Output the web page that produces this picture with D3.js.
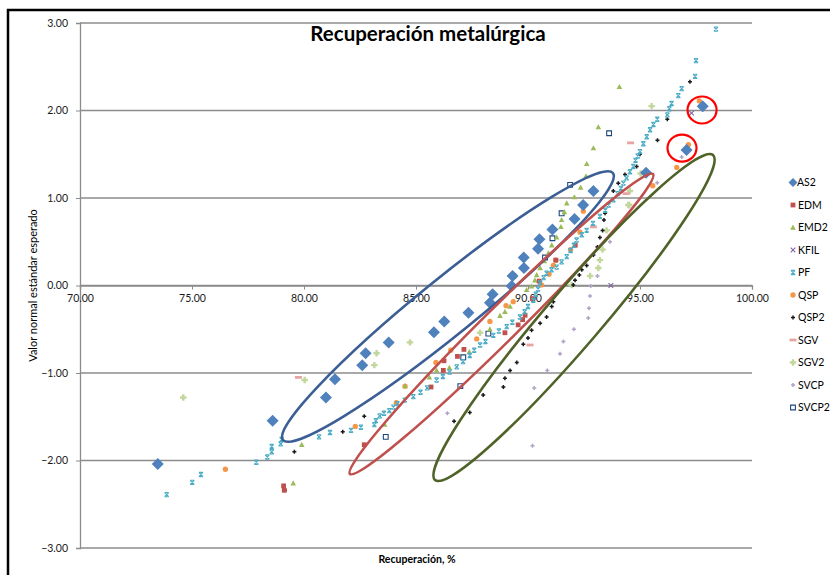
<!DOCTYPE html>
<html>
<head>
<meta charset="utf-8">
<script src="https://cdn.jsdelivr.net/npm/d3@7"></script>
<style>
  body { margin: 0; background: #fff; }
  text { font-family: Lato, "Open Sans", sans-serif; }
</style>
</head>
<body>
<div id="chart"></div>
<script>
// data: [recuperacion %, valor normal]
var AS2 = [[73.47,-2.04],[78.60,-1.545],[80.98,-1.28],[81.38,-1.07],[82.60,-0.91],[82.75,-0.775],[83.78,-0.65],
  [85.80,-0.535],[86.26,-0.41],[87.34,-0.31],[88.30,-0.197],[88.42,-0.10],[89.27,-0.006],[89.31,0.11],[89.82,0.20],
  [89.81,0.32],[90.45,0.42],[90.51,0.53],[91.09,0.64],[92.08,0.76],[92.46,0.92],[92.92,1.08],[95.27,1.29],[97.08,1.55],[97.80,2.05]];
var EDM = [[79.09,-2.29],[79.12,-2.34],[82.69,-1.82],[85.67,-1.16],[86.22,-0.97],[86.25,-0.86],[86.85,-0.81],[87.14,-0.73],
  [88.97,-0.54],[89.56,-0.45],[89.76,-0.39],[89.87,-0.34],[90.2,-0.15],[90.5,0.05],[91.24,0.29],[92.11,0.46]];
var EMD2 = [[79.52,-2.26],[79.90,-1.82],[83.60,-1.59],[84.51,-1.15],[85.60,-1.05],[85.92,-0.97],[86.49,-0.94],[87.38,-0.76],
  [88.30,-0.50],[88.75,-0.345],[88.97,-0.30],[89.20,-0.24],[89.94,-0.05],[90.16,-0.01],[90.31,0.06],[90.39,0.12],[90.54,0.20],
  [90.73,0.28],[90.91,0.37],[91.06,0.46],[91.28,0.55],[91.47,0.67],[91.50,0.75],[91.62,0.84],[91.73,0.94],[92.07,1.01],
  [92.35,1.12],[92.59,1.25],[92.62,1.39],[92.92,1.57],[93.14,1.81],[94.08,2.27]];
var KFIL = [[93.70,0.0],[97.30,1.97]];
var PF = [[73.87,-2.39],[75.01,-2.25],[75.40,-2.16],[77.87,-2.02],[78.36,-1.96],[78.56,-1.90],[78.56,-1.84],[78.96,-1.81],
  [79.0,-1.76],[80.67,-1.73],[81.16,-1.68],[82.1,-1.655],[82.54,-1.62],[83.14,-1.59],[83.21,-1.545],[83.38,-1.49],[83.57,-1.46],
  [83.81,-1.43],[83.99,-1.39],[84.17,-1.35],[84.5,-1.31],[84.88,-1.27],[85.2,-1.22],[85.5,-1.17],[85.92,-1.08],[86.2,-1.04],
  [86.5,-0.99],[86.82,-0.93],[87.1,-0.87],[87.4,-0.80],[87.6,-0.74],[87.86,-0.68],[88.1,-0.64],[88.45,-0.57],[88.7,-0.52],
  [89.05,-0.47],[89.3,-0.42],[89.64,-0.36],[89.85,-0.30],[90.0,-0.24],[90.24,-0.17],[90.35,-0.10],[90.45,-0.04],[90.54,0.03],
  [90.7,0.09],[90.83,0.14],[91.05,0.18],[91.28,0.21],[91.5,0.27],[91.73,0.33],[91.9,0.40],[92.05,0.46],[92.17,0.52],[92.4,0.58],
  [92.62,0.63],[92.9,0.71],[93.21,0.79],[93.45,0.86],[93.6,0.92],[93.81,0.98],[94.0,1.05],[94.15,1.11],[94.26,1.17],[94.4,1.23],
  [94.55,1.30],[94.70,1.36],[94.8,1.43],[94.9,1.48],[95.0,1.53],[95.15,1.62],[95.3,1.70],[95.45,1.78],[95.6,1.84],[95.77,1.90],
  [96.22,1.95],[96.31,2.02],[96.41,2.08],[96.71,2.17],[96.86,2.25],[97.46,2.39],[97.50,2.57],[98.39,2.93]];
var QSP = [[76.49,-2.10],[82.29,-1.61],[84.12,-1.34],[84.51,-1.15],[85.89,-0.88],[86.55,-0.74],[87.71,-0.61],[88.30,-0.41],
  [89.02,-0.23],[89.34,-0.185],[90.6,0.006],[90.94,0.13],[91.13,0.23],[91.25,0.29],[91.9,0.41],[92.32,0.61],[92.47,0.85],
  [95.57,1.14],[96.64,1.35],[97.16,1.61],[97.65,2.11]];
var QSP2 = [[79.15,-2.34],[79.57,-1.90],[81.73,-1.67],[82.69,-1.495],[86.7,-1.55],[87.4,-1.45],[88.0,-1.25],[88.9,-1.16],
  [88.97,-1.06],[89.2,-0.97],[89.5,-0.88],[89.79,-0.67],[90.0,-0.60],[90.16,-0.51],[90.54,-0.43],[90.83,-0.36],[91.06,-0.24],
  [91.13,-0.185],[92.02,0.006],[92.1,0.06],[92.29,0.12],[92.4,0.18],[92.62,0.23],[92.92,0.35],[93.1,0.44],[93.21,0.55],
  [93.33,0.63],[93.39,0.75],[93.44,0.825],[93.81,1.08],[94.03,1.17],[94.33,1.27],[94.85,1.36],[95.0,1.50],[95.78,1.66],
  [96.22,1.90],[97.23,2.33]];
var SGV = [[79.75,-1.05],[90.09,-0.68],[92.92,0.67],[94.38,1.05],[94.58,1.63]];
var SGV2 = [[74.61,-1.28],[80.03,-1.08],[83.14,-0.91],[83.24,-0.775],[84.73,-0.65],[87.86,-0.54],[91.95,0.006],[92.77,0.11],
  [93.14,0.20],[93.21,0.29],[93.33,0.41],[93.51,0.63],[94.48,0.92],[94.52,0.92],[94.55,1.08],[95.03,1.28],[95.52,2.05]];
var SVCP = [[86.4,-1.46],[90.2,-1.83],[90.28,-1.17],[90.86,-0.97],[91.43,-0.78],[91.58,-0.64],[92.05,-0.50],[92.69,-0.37],
  [92.72,-0.26],[92.77,-0.12],[92.80,-0.006],[93.10,0.11],[93.66,0.50],[95.77,1.175],[96.86,1.47]];
var SVCP2 = [[83.65,-1.73],[86.98,-1.15],[87.11,-0.82],[88.23,-0.55],[89.34,0.11],[90.76,0.32],[91.09,0.54],[91.50,0.825],
  [91.88,1.15],[93.62,1.74]];

var seriesNames = ["AS2","EDM","EMD2","KFIL","PF","QSP","QSP2","SGV","SGV2","SVCP","SVCP2"];
var seriesData = [AS2, EDM, EMD2, KFIL, PF, QSP, QSP2, SGV, SGV2, SVCP, SVCP2];

var xTicks = [70, 75, 80, 85, 90, 95, 100];
var yTicks = [-3, -2, -1, 0, 1, 2, 3];

// hand-drawn ellipses: two ends in data units + half width in px
var ellipses = [
  {p1: [79.06,-1.766], p2: [93.79,1.286], b: 28, color: "#3B5E95"},
  {p1: [82.05,-2.154], p2: [95.58,1.274], b: 17, color: "#C0504D"},
  {p1: [85.85,-2.223], p2: [98.26,1.491], b: 28, color: "#4F6228"}
];
// red circles around two AS2 points
var rings = [[97.77,2.006],[96.875,1.571]];

var w = 830, h = 575;
var svg = d3.select("#chart").append("svg")
  .attr("width", w)
  .attr("height", h);

svg.append("rect").attr("width", w).attr("height", h).attr("fill", "#fff");
// outer frame (cut off at right and bottom)
svg.append("rect")
  .attr("x", 8).attr("y", 10).attr("width", 840).attr("height", 600)
  .attr("fill", "none").attr("stroke", "#000").attr("stroke-width", 2.5);

var x = d3.scaleLinear().domain([70, 100]).range([80, 752]);
var y = d3.scaleLinear().domain([-3, 3]).range([548, 23]);

// gridlines
svg.append("g").selectAll("line")
  .data(yTicks)
  .enter().append("line")
  .attr("x1", x(70)).attr("x2", x(100))
  .attr("y1", d => y(d)).attr("y2", d => y(d))
  .attr("stroke", "#8c8c8c").attr("stroke-width", 1.3);

// y axis
var yAxis = svg.append("g")
  .attr("transform", "translate(" + x(70) + ",0)")
  .call(d3.axisLeft(y).tickValues(yTicks).tickFormat(d3.format(".2f")).tickSize(4).tickPadding(8));
yAxis.select(".domain").attr("stroke", "#8c8c8c").attr("stroke-width", 1.3);
yAxis.selectAll(".tick line").attr("stroke", "#8c8c8c");
yAxis.selectAll("text").attr("font-size", 10.5).attr("fill", "#1a1a1a").attr("font-family", "Lato, sans-serif");

// x axis crossing at y = 0
var xAxis = svg.append("g")
  .attr("transform", "translate(0," + y(0) + ")")
  .call(d3.axisBottom(x).tickValues(xTicks).tickFormat(d3.format(".2f")).tickSize(4).tickPadding(5));
xAxis.select(".domain").attr("stroke", "#8c8c8c").attr("stroke-width", 1.3);
xAxis.selectAll(".tick line").attr("stroke", "#8c8c8c");
xAxis.selectAll("text").attr("font-size", 10.5).attr("fill", "#1a1a1a").attr("font-family", "Lato, sans-serif");

// markers
function markerPath(name) {
  switch (name) {
    case "AS2": return "M0,-6L6,0L0,6L-6,0Z";
    case "EDM": return "M-2.4,-2.4H2.4V2.4H-2.4Z";
    case "EMD2": return "M0,-3L2.8,2.2H-2.8Z";
    case "KFIL": return "M-2.3,-2.3L2.3,2.3M2.3,-2.3L-2.3,2.3";
    case "PF": return "M-2.1,-2.1L2.1,2.1M2.1,-2.1L-2.1,2.1M-2.1,-2.1H2.1M-2.1,2.1H2.1";
    case "QSP": return d3.symbol(d3.symbolCircle, 22)();
    case "QSP2": return "M-2,0H2M0,-2V2";
    case "SGV": return "M-3.5,-1.4H3.5V1.4H-3.5Z";
    case "SGV2": return "M-3.2,0H3.2M0,-3.2V3.2";
    case "SVCP": return "M-2,0H2M0,-2V2";
    case "SVCP2": return "M-2.4,-2.4H2.4V2.4H-2.4Z";
  }
}
var styles = {
  AS2:   {fill: "#4F81BD", stroke: "none", sw: 0},
  EDM:   {fill: "#C0504D", stroke: "none", sw: 0},
  EMD2:  {fill: "#9BBB59", stroke: "none", sw: 0},
  KFIL:  {fill: "none", stroke: "#8064A2", sw: 1.1},
  PF:    {fill: "none", stroke: "#4BACC6", sw: 1.1},
  QSP:   {fill: "#F79646", stroke: "none", sw: 0},
  QSP2:  {fill: "none", stroke: "#1a1a1a", sw: 1.5},
  SGV:   {fill: "#E6A5A4", stroke: "none", sw: 0},
  SGV2:  {fill: "none", stroke: "#C3D69B", sw: 2.4},
  SVCP:  {fill: "none", stroke: "#B3A2C7", sw: 1.5},
  SVCP2: {fill: "#fff", stroke: "#1F497D", sw: 1.1}
};

// draw series, AS2 last so the diamonds sit on top
var order = [10, 9, 8, 7, 6, 5, 3, 2, 1, 4, 0];
order.forEach(function(i) {
  var name = seriesNames[i];
  var st = styles[name];
  svg.append("g").selectAll("path")
    .data(seriesData[i])
    .enter().append("path")
    .attr("d", markerPath(name))
    .attr("transform", d => "translate(" + x(d[0]) + "," + y(d[1]) + ")")
    .attr("fill", st.fill)
    .attr("stroke", st.stroke)
    .attr("stroke-width", st.sw);
});

// ellipses
svg.append("g").selectAll("ellipse")
  .data(ellipses)
  .enter().append("ellipse")
  .each(function(d) {
    var x1 = x(d.p1[0]), y1 = y(d.p1[1]), x2 = x(d.p2[0]), y2 = y(d.p2[1]);
    var cx = (x1 + x2) / 2, cy = (y1 + y2) / 2;
    var a = Math.hypot(x2 - x1, y2 - y1) / 2;
    var ang = Math.atan2(y2 - y1, x2 - x1) * 180 / Math.PI;
    d3.select(this)
      .attr("rx", a).attr("ry", d.b)
      .attr("transform", "translate(" + cx + "," + cy + ") rotate(" + ang + ")");
  })
  .attr("fill", "none")
  .attr("stroke", d => d.color)
  .attr("stroke-width", 2.6);

svg.append("g").selectAll("ellipse")
  .data(rings)
  .enter().append("ellipse")
  .attr("cx", d => x(d[0])).attr("cy", d => y(d[1]))
  .attr("rx", 14.5).attr("ry", 13.5)
  .attr("fill", "none").attr("stroke", "#FF0000").attr("stroke-width", 2.2);

// title and axis titles
svg.append("text")
  .text("Recuperación metalúrgica")
  .attr("x", 428).attr("y", 41)
  .attr("text-anchor", "middle")
  .attr("font-size", 20.5).attr("font-weight", "bold").attr("fill", "#000");

svg.append("text")
  .text("Recuperación, %")
  .attr("x", 417).attr("y", 563)
  .attr("text-anchor", "middle")
  .attr("font-size", 10.5).attr("font-weight", "bold").attr("fill", "#000");

svg.append("text")
  .text("Valor normal estándar esperado")
  .attr("transform", "translate(37," + y(0) + ") rotate(-90)")
  .attr("text-anchor", "middle")
  .attr("font-size", 11).attr("fill", "#000");

// legend
var legend = svg.append("g").selectAll("g")
  .data(seriesNames)
  .enter().append("g")
  .attr("transform", (d, i) => "translate(793," + (182.5 + i * 22.5) + ")");
legend.append("path")
  .attr("d", d => d === "AS2" ? "M0,-4.5L4.5,0L0,4.5L-4.5,0Z" : markerPath(d))
  .attr("fill", d => styles[d].fill)
  .attr("stroke", d => styles[d].stroke)
  .attr("stroke-width", d => styles[d].sw);
legend.append("text")
  .text(d => d)
  .attr("x", d => d === "AS2" ? 4 : 5)
  .attr("dy", "0.35em")
  .attr("font-size", 10.5).attr("fill", "#000");
</script>
</body>
</html>
